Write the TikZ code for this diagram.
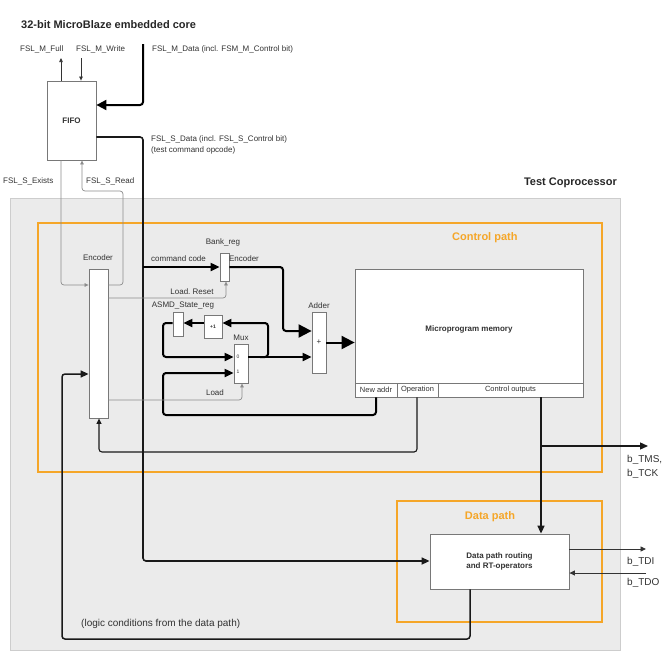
\documentclass[tikz,border=0pt]{standalone}
\usepackage{fontspec}
\setmainfont{Liberation Sans}
\usetikzlibrary{arrows.meta,calc}
\definecolor{orng}{RGB}{245,166,40}
\definecolor{bgfill}{RGB}{235,235,235}
\definecolor{bgline}{RGB}{205,205,205}
\definecolor{boxline}{RGB}{120,120,120}
\definecolor{thin}{RGB}{140,140,140}
\definecolor{txt}{RGB}{50,50,50}
\tikzset{
  blk/.style={draw=boxline, line width=0.8pt, fill=white, inner sep=0pt, font=\fontsize{8}{9}\selectfont\bfseries, text=txt},
  lbl/.style={inner sep=0pt, font=\fontsize{8}{9}\selectfont, text=txt},
  blbl/.style={inner sep=0pt, font=\fontsize{8}{9}\selectfont\bfseries, text=txt},
  biglbl/.style={inner sep=0pt, font=\fontsize{10}{12}\selectfont, text=txt},
  head/.style={inner sep=0pt, font=\fontsize{11}{13}\selectfont\bfseries, text=black!85},
  ohead/.style={inner sep=0pt, font=\fontsize{11}{13}\selectfont\bfseries, text=orng},
  tiny/.style={inner sep=0pt, font=\fontsize{5}{6}\selectfont, text=txt},
  thk/.style={draw=black, line width=2pt, rounded corners=3pt},
  med/.style={draw=black!90, line width=1.3pt, rounded corners=3pt},
  tn/.style={draw=thin, line width=0.7pt, rounded corners=3pt},
  tdark/.style={draw=black!80, line width=0.7pt},
  bigtip/.style={-{Triangle[length=13pt,width=13pt]}},
  midtip/.style={-{Triangle[length=10pt,width=10pt]}},
  medtip/.style={-{Triangle[length=9pt,width=8pt]}},
  mtip/.style={-{Triangle[length=8pt,width=7pt]}},
  stip/.style={-{Triangle[length=5.5pt,width=5pt]}},
  smtip/.style={-{Triangle[length=4pt,width=3.5pt]}},
}
\begin{document}
\begin{tikzpicture}[x=1pt,y=-1pt]
\useasboundingbox (0,0) rectangle (665,657);
% backgrounds
\draw[fill=bgfill, draw=bgline, line width=1pt] (10,198) rectangle (620,650);
\draw[draw=orng, line width=1.8pt] (38,223) rectangle (602,472);
\draw[draw=orng, line width=1.8pt] (397,501) rectangle (602,622);

% headings
\node[head, anchor=west] (title) at (21,25) {32-bit MicroBlaze embedded core};
\node[head, anchor=east] (tcop) at (617,183) {Test Coprocessor};
\node[ohead, anchor=west] (cpl) at (452,238) {Control path};
\node[ohead] (dpl) at (490,517) {Data path};

% blocks
\node[blk, minimum width=49pt, minimum height=79pt] (fifo) at (71.5,120.5) {FIFO};
\node[blk, minimum width=19pt, minimum height=149pt] (enc) at (98.5,343.5) {};
\node[blk, minimum width=9pt, minimum height=28pt] (bank) at (224.5,267) {};
\node[blk, minimum width=10pt, minimum height=24pt] (asmd) at (178,324) {};
\node[blk, minimum width=18pt, minimum height=23pt, font=\fontsize{5}{6}\selectfont\bfseries] (plus1) at (213,326.5) {+1};
\node[blk, minimum width=14pt, minimum height=39pt] (mux) at (241,363.5) {};
\node[blk, minimum width=14pt, minimum height=61pt, font=\fontsize{8}{9}\selectfont] (adder) at (319,342.5) {+};
\node[blk, minimum width=228pt, minimum height=128pt] (mem) at (469,333) {};
\node[blbl] (memt) at (469,329) {Microprogram memory};
\node[blk, minimum width=42pt, minimum height=14pt, font=\fontsize{7.5}{9}\selectfont] (naddr) at (376,390) {New addr};
\node[blk, minimum width=41pt, minimum height=14pt, font=\fontsize{7.5}{9}\selectfont] (oper) at (417.5,390) {Operation};
\node[blk, minimum width=145pt, minimum height=14pt, font=\fontsize{7.5}{9}\selectfont] (ctrl) at (510.5,390) {Control outputs};
\node[blk, minimum width=139pt, minimum height=55pt, align=center, font=\fontsize{8}{10}\selectfont\bfseries] (dp) at (499.5,561.5) {Data path routing\\and RT-operators};

% small labels
\node[lbl, anchor=west] (lmfull) at (20,49) {FSL\_M\_Full};
\node[lbl, anchor=west] (lmwrite) at (76,49) {FSL\_M\_Write};
\node[lbl, anchor=west] (lmdata) at (152,49) {FSL\_M\_Data (incl. FSM\_M\_Control bit)};
\node[lbl, anchor=west] (lsdata) at (151,139) {FSL\_S\_Data (incl. FSL\_S\_Control bit)};
\node[lbl, anchor=west] (lsdata2) at (151,150) {(test command opcode)};
\node[lbl, anchor=west] (lsexists) at (3,181) {FSL\_S\_Exists};
\node[lbl, anchor=west] (lsread) at (86,181) {FSL\_S\_Read};
\node[lbl] (lenc) at (98,258) {Encoder};
\node[lbl] (lbank) at (223,242) {Bank\_reg};
\node[lbl, anchor=west] (lcmd) at (151,259) {command code};
\node[lbl] (lenc2) at (244,259) {Encoder};
\node[lbl] (lloadr) at (192,292) {Load.\ Reset};
\node[lbl] (lasmd) at (183,306) {ASMD\_State\_reg};
\node[lbl] (lmux) at (241,338) {Mux};
\node[lbl] (ladder) at (319,306) {Adder};
\node[lbl] (lload) at (215,393) {Load};
\node[tiny] (m0) at (238,357) {0};
\node[tiny] (m1) at (238,372) {1};
\node[biglbl, anchor=west] (ltms) at (627,460) {b\_TMS,};
\node[biglbl, anchor=west] (ltck) at (627,474) {b\_TCK};
\node[biglbl, anchor=west] (ltdi) at (627,562) {b\_TDI};
\node[biglbl, anchor=west] (ltdo) at (627,583) {b\_TDO};
\node[biglbl, anchor=west] (llogic) at (81,624) {(logic conditions from the data path)};

% free ends
\coordinate (mfull) at (61,58);
\coordinate (mwrite) at (81,58);
\coordinate (mtop) at (143,44);
\coordinate (tms) at (648,446);
\coordinate (tdi) at (646,549);
\coordinate (tdo) at (646,573);

% FIFO I/O
\draw[tdark, smtip] (61,0 |- fifo.north) -- (mfull);
\draw[tdark, smtip] (mwrite) -- (81,0 |- fifo.north);
\draw[thk, midtip] (mtop) -- (143,105) -- (fifo.east |- 0,105);
\draw[med, line width=1.6pt, mtip] (fifo.east |- 0,137) -- (143,137) -- (143,561) -- (dp.west |- 0,561);
\draw[tn, smtip] (61,0 |- fifo.south) -- (61,285) -- (enc.west |- 0,285);
\draw[tn, smtip] (enc.east |- 0,285) -- (123,285) -- (123,191) -- (82,191) -- (82,0 |- fifo.south);

% control path
\draw[thk, medtip] (143,267) -- (bank.west);
\draw[thk, bigtip] (bank.east) -- (283,267) -- (283,331) -- (adder.west |- 0,331);
\draw[thk, bigtip] (adder.east) -- (mem.west |- adder.east);
\draw[thk, medtip] (mux.east |- 0,357) -- (adder.west |- 0,357);
\draw[thk, medtip] (260,357) -- (268,357) -- (268,323) -- (plus1.east |- 0,323);
\draw[thk, medtip] (plus1.west |- 0,323) -- (asmd.east |- 0,323);
\draw[thk, medtip] (asmd.west |- 0,323) -- (163,323) -- (163,357) -- (mux.west |- 0,357);
\draw[thk, medtip] (naddr.south) -- (376,415) -- (163,415) -- (163,373) -- (mux.west |- 0,373);
\draw[med, line width=1.1pt, stip] (417,0 |- oper.south) -- (417,452) -- (99,452) -- (99,0 |- enc.south);
\draw[tn, smtip] (enc.east |- 0,298) -- (226,298) -- (226,0 |- bank.south);
\draw[tn, smtip] (enc.east |- 0,400) -- (242,400) -- (242,0 |- mux.south);

% control outputs
\draw[med, line width=1.6pt, mtip] (541,0 |- ctrl.south) -- (541,0 |- dp.north);
\draw[med, line width=1.3pt, mtip] (541,446) -- (tms);

% data path I/O
\draw[tdark, line width=0.9pt, stip] (dp.east |- 0,549) -- (tdi);
\draw[tdark, line width=0.9pt, stip] (tdo) -- (dp.east |- 0,573);
\draw[med, line width=1.5pt, mtip] (470,0 |- dp.south) -- (470,639) -- (62,639) -- (62,374) -- (enc.west |- 0,374);
\end{tikzpicture}
\end{document}
